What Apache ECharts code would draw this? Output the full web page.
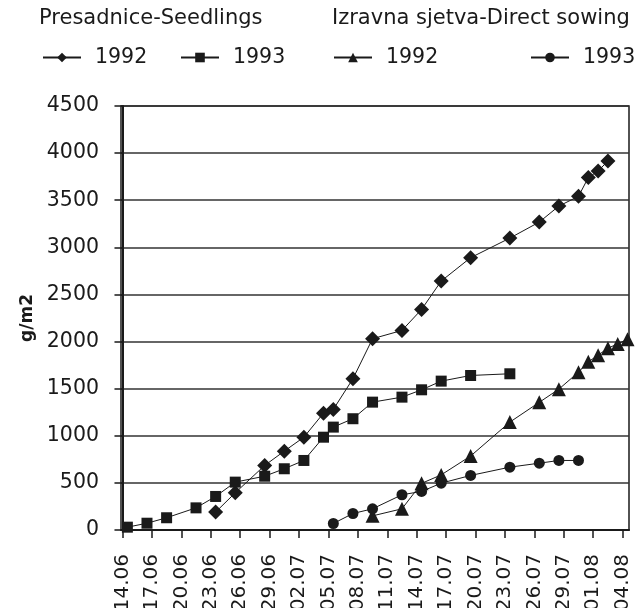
<!DOCTYPE html>
<html>
<head>
<meta charset="utf-8">
<script src="https://cdn.jsdelivr.net/npm/echarts@6/dist/echarts.min.js"></script>
<style>
  html, body { margin: 0; padding: 0; background: #fff; }
  #chart { width: 638px; height: 608px; }
</style>
</head>
<body>
<div id="chart"></div>
<script>
// tick labels on the date axis (every 3 days)
const tickLabels = ['14.06', '17.06', '20.06', '23.06', '26.06', '29.06', '02.07', '05.07', '08.07',
  '11.07', '14.07', '17.07', '20.07', '23.07', '26.07', '29.07', '01.08', '04.08'];

// Presadnice-Seedlings 1992
const seed1992Dates = ['23.06', '25.06', '28.06', '30.06', '02.07', '04.07', '05.07', '07.07', '09.07',
  '12.07', '14.07', '16.07', '19.07', '23.07', '26.07', '28.07', '30.07', '31.07', '01.08', '02.08'];
const seed1992Values = [190, 395, 685, 837, 985, 1240, 1280, 1605, 2030,
  2118, 2341, 2642, 2890, 3098, 3268, 3438, 3541, 3740, 3810, 3916];

// Presadnice-Seedlings 1993
const seed1993Dates = ['14.06', '16.06', '18.06', '21.06', '23.06', '25.06', '28.06', '30.06', '02.07',
  '04.07', '05.07', '07.07', '09.07', '12.07', '14.07', '16.07', '19.07', '23.07'];
const seed1993Values = [30, 72, 130, 235, 356, 508, 571, 650, 738,
  985, 1092, 1181, 1357, 1410, 1488, 1580, 1640, 1658];

// Izravna sjetva-Direct sowing 1992
const direct1992Dates = ['09.07', '12.07', '14.07', '16.07', '19.07', '23.07', '26.07', '28.07', '30.07',
  '31.07', '01.08', '02.08', '03.08', '04.08'];
const direct1992Values = [150, 225, 495, 585, 785, 1145, 1355, 1495, 1675, 1785, 1855, 1930, 1975, 2025];

// Izravna sjetva-Direct sowing 1993
const direct1993Dates = ['05.07', '07.07', '09.07', '12.07', '14.07', '16.07', '19.07', '23.07', '26.07',
  '28.07', '30.07'];
const direct1993Values = [69, 175, 225, 374, 409, 497, 579, 667, 709, 738, 738];

const ink = '#1a1a1a';
const font = '"DejaVu Sans", sans-serif';
const textSize = 20.5;

// days after 14.06
function dayOf(label) {
  const [d, m] = label.split('.').map(Number);
  if (m === 6) return d - 14;
  if (m === 7) return d + 16;
  return d + 47;
}

// Excel date axis: a point sits in the middle of its day
function pairs(dates, values) {
  return dates.map((d, i) => [dayOf(d) + 0.5, values[i]]);
}

const tickDays = tickLabels.map(dayOf);

function line(name, symbol, size, dates, values) {
  return {
    name,
    type: 'line',
    data: pairs(dates, values),
    symbol,
    symbolSize: size,
    showAllSymbol: true,
    lineStyle: { color: ink, width: 1 },
    itemStyle: { color: ink },
    emphasis: { disabled: true },
    animation: false
  };
}

function legendAt(left, name) {
  return {
    data: [name],
    left,
    top: 47,
    padding: 0,
    itemWidth: 38,
    itemHeight: 12,
    formatter: (n) => n.slice(-4),
    textStyle: { fontSize: textSize, color: ink, fontFamily: font, padding: [0, 0, 0, 9] },
    selectedMode: false
  };
}

const chart = echarts.init(document.getElementById('chart'));
chart.setOption({
  backgroundColor: '#fff',
  animation: false,
  title: [
    { text: 'Presadnice-Seedlings', left: 39, top: 8, padding: 0,
      textStyle: { fontSize: 21, fontWeight: 'normal', color: ink, fontFamily: font } },
    { text: 'Izravna sjetva-Direct sowing', left: 332, top: 8, padding: 0,
      textStyle: { fontSize: 21, fontWeight: 'normal', color: ink, fontFamily: font } }
  ],
  legend: [
    legendAt(42, 'Seedlings 1992'),
    legendAt(180, 'Seedlings 1993'),
    legendAt(333, 'Direct 1992'),
    legendAt(530, 'Direct 1993')
  ],
  grid: {
    left: 121, right: 9, top: 106, bottom: 78,
    outerBoundsMode: 'none',
    show: true, borderColor: ink, borderWidth: 1.5
  },
  xAxis: {
    type: 'value',
    min: -0.15,
    max: 51.65,
    splitLine: { show: false },
    axisLine: { show: true, onZero: false, lineStyle: { color: ink, width: 2 } },
    axisTick: { show: true, length: 8, customValues: tickDays, lineStyle: { color: ink, width: 1.5 } },
    axisLabel: {
      customValues: tickDays,
      rotate: 90,
      margin: 24,
      fontSize: 20,
      color: ink,
      fontFamily: font,
      formatter: (v) => tickLabels[tickDays.indexOf(Math.round(v))] || ''
    }
  },
  yAxis: {
    type: 'value',
    min: 0,
    max: 4500,
    interval: 500,
    name: 'g/m2',
    nameLocation: 'middle',
    nameRotate: 90,
    nameGap: 82,
    nameTextStyle: { fontSize: 17, fontWeight: 'bold', color: ink, fontFamily: font },
    axisLine: { show: true, lineStyle: { color: ink, width: 2 } },
    axisTick: { show: true, length: 8, lineStyle: { color: ink, width: 1.5 } },
    splitLine: { lineStyle: { color: '#333', width: 1.5 } },
    axisLabel: { fontSize: textSize, color: ink, fontFamily: font, margin: 22, formatter: (v) => String(v) }
  },
  series: [
    line('Seedlings 1992', 'diamond', 15, seed1992Dates, seed1992Values),
    line('Seedlings 1993', 'rect', 11, seed1993Dates, seed1993Values),
    line('Direct 1992', 'triangle', 14, direct1992Dates, direct1992Values),
    line('Direct 1993', 'circle', 11, direct1993Dates, direct1993Values)
  ]
});
</script>
</body>
</html>
